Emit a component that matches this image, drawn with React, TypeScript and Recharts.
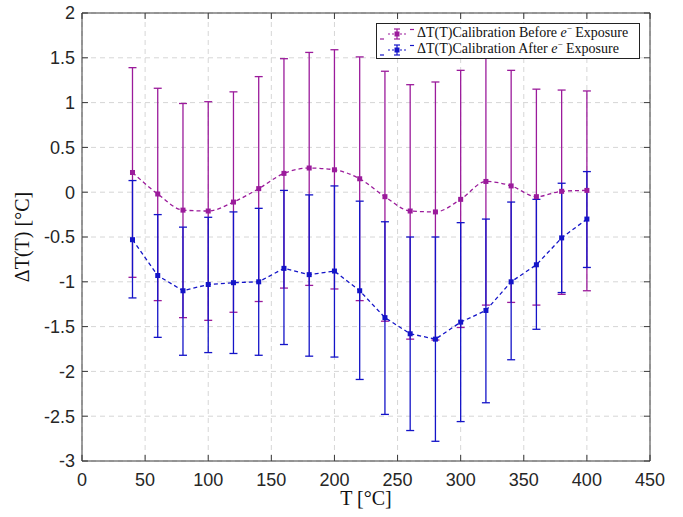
import React from "react";
import {
  ComposedChart,
  Line,
  XAxis,
  YAxis,
  CartesianGrid,
  ErrorBar,
  Legend,
  ReferenceArea,
} from "recharts";

// temperatures (°C)
const temps = [40, 60, 80, 100, 120, 140, 160, 180, 200, 220, 240, 260, 280, 300, 320, 340, 360, 380, 400];

// calibration before e- exposure
const beforeMean = [0.22, -0.02, -0.2, -0.21, -0.11, 0.04, 0.21, 0.27, 0.25, 0.15, -0.05, -0.21, -0.22, -0.08, 0.12, 0.07, -0.05, 0.01, 0.02];
const beforeHigh = [1.39, 1.16, 0.99, 1.01, 1.12, 1.29, 1.49, 1.56, 1.59, 1.51, 1.35, 1.2, 1.23, 1.36, 1.51, 1.36, 1.15, 1.14, 1.13];
const beforeLow = [-0.95, -1.21, -1.4, -1.43, -1.34, -1.22, -1.07, -1.04, -1.08, -1.21, -1.44, -1.64, -1.65, -1.51, -1.26, -1.23, -1.26, -1.14, -1.1];

// calibration after e- exposure
const afterMean = [-0.53, -0.93, -1.1, -1.03, -1.01, -1.0, -0.85, -0.92, -0.88, -1.1, -1.4, -1.58, -1.64, -1.45, -1.32, -1.0, -0.81, -0.51, -0.3];
const afterHigh = [0.13, -0.25, -0.39, -0.28, -0.22, -0.18, 0.02, -0.03, 0.07, -0.1, -0.33, -0.5, -0.5, -0.34, -0.3, -0.11, -0.08, 0.1, 0.23];
const afterLow = [-1.18, -1.62, -1.82, -1.79, -1.8, -1.82, -1.7, -1.83, -1.84, -2.09, -2.48, -2.66, -2.78, -2.56, -2.35, -1.87, -1.53, -1.12, -0.84];

const xTicks = [0, 50, 100, 150, 200, 250, 300, 350, 400, 450];
const yTicks = [-3, -2.5, -2, -1.5, -1, -0.5, 0, 0.5, 1, 1.5, 2];

const PURPLE = "#9b1b9b";
const BLUE = "#1414c8";
const AXIS = "#3a3a3a";

const W = 683;
const H = 517;
const MARGIN = { top: 13, right: 33, bottom: 0, left: 22 };
const Y_AXIS_W = 60;
const X_AXIS_H = 56;
const PLOT_W = W - MARGIN.left - Y_AXIS_W - MARGIN.right;
const PLOT_H = H - MARGIN.top - X_AXIS_H - MARGIN.bottom;
const TICK_LEN = 6;
const X_TICK_GAP = 12;
const Y_TICK_GAP = 7;

const data = temps.map((t, i) => ({
  t,
  before: beforeMean[i],
  beforeErr: [+(beforeMean[i] - beforeLow[i]).toFixed(3), +(beforeHigh[i] - beforeMean[i]).toFixed(3)],
  after: afterMean[i],
  afterErr: [+(afterMean[i] - afterLow[i]).toFixed(3), +(afterHigh[i] - afterMean[i]).toFixed(3)],
}));

const squareDot = (color: string) => (p: any) => (
  <rect key={p.index} x={p.cx - 2.5} y={p.cy - 2.5} width={5} height={5} fill={color} />
);

const tickText = {
  fontFamily: "'Liberation Sans', Arial, sans-serif",
  fontSize: 18,
  fill: "#262626",
};

// x tick: label plus inward tick marks on bottom and top edges
const XTick = (p: any) => {
  const axisY = p.y - X_TICK_GAP;
  return (
    <g>
      <line x1={p.x} y1={axisY} x2={p.x} y2={axisY - TICK_LEN} stroke={AXIS} />
      <line x1={p.x} y1={axisY - PLOT_H} x2={p.x} y2={axisY - PLOT_H + TICK_LEN} stroke={AXIS} />
      <text x={p.x} y={p.y} dy="0.71em" textAnchor="middle" {...tickText}>
        {p.payload.value}
      </text>
    </g>
  );
};

// y tick: label plus inward tick marks on left and right edges
const YTick = (p: any) => {
  const axisX = p.x + Y_TICK_GAP;
  return (
    <g>
      <line x1={axisX} y1={p.y} x2={axisX + TICK_LEN} y2={p.y} stroke={AXIS} />
      <line x1={axisX + PLOT_W} y1={p.y} x2={axisX + PLOT_W - TICK_LEN} y2={p.y} stroke={AXIS} />
      <text x={p.x} y={p.y} dy="0.355em" textAnchor="end" {...tickText}>
        {String(p.payload.value)}
      </text>
    </g>
  );
};

const LegendIcon = ({ color }: { color: string }) => (
  <svg width={36} height={14} style={{ verticalAlign: "middle" }}>
    <line x1={1} y1={12} x2={5} y2={12} stroke={color} strokeWidth={1.2} />
    <line x1={31} y1={2.5} x2={35} y2={2.5} stroke={color} strokeWidth={1.2} />
    <line x1={18} y1={2} x2={18} y2={12} stroke={color} strokeWidth={1.2} />
    <line x1={15} y1={2} x2={21} y2={2} stroke={color} strokeWidth={1.2} />
    <line x1={15} y1={12} x2={21} y2={12} stroke={color} strokeWidth={1.2} />
    <line x1={9} y1={7} x2={27} y2={7} stroke={color} strokeWidth={1.2} strokeDasharray="2 2" />
    <rect x={15.5} y={4.5} width={5} height={5} fill={color} />
  </svg>
);

const legendRows = [
  { color: PURPLE, word: "Before" },
  { color: BLUE, word: "After" },
];

const renderLegend = () => (
  <div
    style={{
      border: "1px solid #222",
      background: "#fff",
      padding: "1px 4px 1px 2px",
      width: 256,
      fontFamily: "'Liberation Serif', 'DejaVu Serif', serif",
      fontSize: 14,
      lineHeight: "16px",
      color: "#111",
      whiteSpace: "nowrap",
    }}
  >
    {legendRows.map((r) => (
      <div key={r.word}>
        <LegendIcon color={r.color} />
        <span style={{ marginLeft: 2 }}>
          ΔT(T)Calibration {r.word} <i>e</i>
          <sup style={{ fontSize: 9, lineHeight: 0 }}>−</sup> Exposure
        </span>
      </div>
    ))}
  </div>
);

export default function App() {
  return (
    <div style={{ position: "absolute", left: 0, top: 0, background: "#fff" }}>
      <ComposedChart width={W} height={H} data={data} margin={MARGIN}>
        <CartesianGrid stroke="#d6d6d6" strokeDasharray="5 4" />
        <XAxis
          dataKey="t"
          type="number"
          domain={[0, 450]}
          ticks={xTicks}
          height={X_AXIS_H}
          tickLine={false}
          tickSize={0}
          tickMargin={X_TICK_GAP}
          axisLine={false}
          tick={<XTick />}
          label={{
            content: (p: any) => {
              const vb = p.viewBox;
              return (
                <text
                  x={vb.x + vb.width / 2}
                  y={vb.y + 37}
                  textAnchor="middle"
                  dominantBaseline="central"
                  fontFamily="'Liberation Serif', 'DejaVu Serif', serif"
                  fontSize={20}
                  fill="#111"
                >
                  T [°C]
                </text>
              );
            },
          }}
        />
        <YAxis
          type="number"
          domain={[-3, 2]}
          ticks={yTicks}
          width={Y_AXIS_W}
          tickLine={false}
          tickSize={0}
          tickMargin={Y_TICK_GAP}
          axisLine={false}
          tick={<YTick />}
          label={{
            content: (p: any) => {
              const vb = p.viewBox;
              const cx = vb.x;
              const cy = vb.y + vb.height / 2;
              return (
                <text
                  x={cx}
                  y={cy}
                  textAnchor="middle"
                  dominantBaseline="central"
                  transform={`rotate(-90 ${cx} ${cy})`}
                  fontFamily="'Liberation Serif', 'DejaVu Serif', serif"
                  fontSize={20}
                  fill="#111"
                >
                  ΔT(T) [°C]
                </text>
              );
            },
          }}
        />
        <ReferenceArea x1={0} x2={450} y1={-3} y2={2} fill="none" stroke={AXIS} strokeWidth={1} ifOverflow="visible" />
        <Legend
          layout="vertical"
          align="center"
          verticalAlign="middle"
          content={renderLegend}
          wrapperStyle={{ top: 23, left: 376, width: "auto" }}
        />
        <Line
          dataKey="before"
          stroke={PURPLE}
          strokeWidth={1.3}
          strokeDasharray="4 3"
          type="monotone"
          dot={squareDot(PURPLE)}
          activeDot={false}
          isAnimationActive={false}
        >
          <ErrorBar dataKey="beforeErr" direction="y" width={4} stroke={PURPLE} strokeWidth={1.3} />
        </Line>
        <Line
          dataKey="after"
          stroke={BLUE}
          strokeWidth={1.3}
          strokeDasharray="4 3"
          type="linear"
          dot={squareDot(BLUE)}
          activeDot={false}
          isAnimationActive={false}
        >
          <ErrorBar dataKey="afterErr" direction="y" width={4} stroke={BLUE} strokeWidth={1.3} />
        </Line>
      </ComposedChart>
    </div>
  );
}
